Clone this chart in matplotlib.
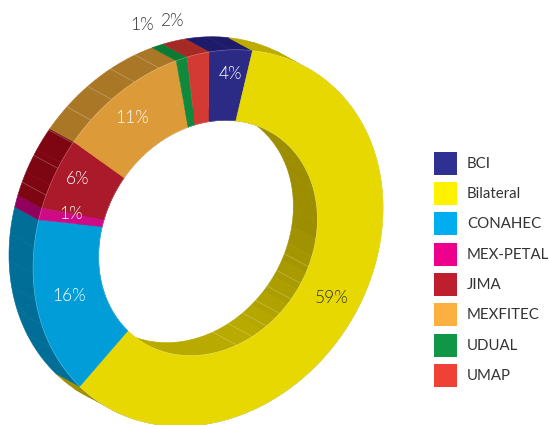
import numpy as np
import matplotlib
matplotlib.use("Agg")
import matplotlib.pyplot as plt
from matplotlib.patches import Polygon, Rectangle
from matplotlib.transforms import Affine2D

categories = ["BCI", "Bilateral", "CONAHEC", "MEX-PETAL", "JIMA", "MEXFITEC", "UDUAL", "UMAP"]
shares = [4, 59, 16, 1, 6, 11, 1, 2]
labels_txt = ["4%", "59%", "16%", "1%", "6%", "11%", "1%", "2%"]
label_x = [230, 332, 69, 71, 78, 132, 142, 172]
label_y = [74, 298, 296, 214, 179, 118, 25, 21]
label_col = ["white", "#333333", "white", "white", "white", "white", "#333333", "#333333"]
face_cols = ["#2b2a85", "#e6d800", "#009dd9", "#cf0a87", "#ab1a2b", "#dd9a38", "#0f8a3c", "#d33a33"]
wall_cols = ["#1e1b6b", "#b5a700", "#006e97", "#92005e", "#7e0612", "#a97726", "#0c7a35", "#a52a26"]
legend_cols = ["#2e3192", "#fff200", "#00aeef", "#ec008c", "#be1e2d", "#fbb040", "#0f9647", "#ef4136"]

plt.rcParams["font.family"] = ["Lato", "DejaVu Sans"]

fig = plt.figure(figsize=(5.49, 4.25), dpi=100)
ax = fig.add_axes([0, 0, 1, 1])

M = Affine2D.from_values(175, -29, 1, -186, 208, 238)
DEPTH = np.array([-24.0, -13.0])
INNER = 0.625
FACET = 360 / 42


def rim(phi_deg, r):
    p = np.radians(phi_deg)
    return M.transform(np.column_stack([r * np.sin(p), r * np.cos(p)]))


def shade(a, b, t):
    ca, cb = np.array(matplotlib.colors.to_rgb(a)), np.array(matplotlib.colors.to_rgb(b))
    return tuple(ca + (cb - ca) * t)


def wall_colour(i, phi, r):
    if categories[i] != "Bilateral":
        return wall_cols[i]
    if r == 1:
        return "#bcab00" if phi < 120 else "#9f9000"
    return shade("#9c8e00", "#b9aa00", np.clip((phi - 95) / 60, 0, 1))


edges = np.concatenate([[0], np.cumsum(shares)]) * 3.6

# walls
for i in range(len(shares)):
    a0, a1 = edges[i], edges[i + 1]
    n = max(2, int(np.ceil((a1 - a0) / FACET)) + 1)
    steps = np.linspace(a0, a1, n)
    for s0, s1 in zip(steps[:-1], steps[1:]):
        arc = np.linspace(s0, s1, 12)
        mid = (s0 + s1) / 2
        for r in (1, INNER):
            pts = rim(arc, r)
            poly = np.vstack([pts, pts[::-1] + DEPTH])
            col = wall_colour(i, mid, r)
            ax.add_patch(Polygon(poly, closed=True, fc=col, ec=col, lw=0.4, zorder=2))

# faint facet lines on the visible walls
for phi in np.arange(292, 345, FACET):
    p = rim(np.array([phi]), 1)[0]
    ax.plot([p[0], p[0] + DEPTH[0]], [p[1], p[1] + DEPTH[1]], color="white", alpha=0.3, lw=0.5, zorder=3)
for phi in np.arange(113, 170, FACET):
    p = rim(np.array([phi]), INNER)[0]
    ax.plot([p[0], p[0] + DEPTH[0]], [p[1], p[1] + DEPTH[1]], color="white", alpha=0.3, lw=0.5, zorder=3)

# top face
wedges, _ = ax.pie(shares, startangle=90, counterclock=False, radius=1,
                   colors=face_cols, wedgeprops=dict(width=1 - INNER, linewidth=0.3))
for w, col in zip(wedges, face_cols):
    w.set_edgecolor(col)
    w.set_transform(M + ax.transData)
    w.set_zorder(4)

# thin light rim between face and wall
ang = np.linspace(0, 360, 400)
for r in (1, INNER):
    q = rim(ang, r)
    ax.plot(q[:, 0], q[:, 1], color="white", alpha=0.25, lw=0.5, zorder=5)

for t, x, y, c in zip(labels_txt, label_x, label_y, label_col):
    ax.text(x, y, t, color=c, fontsize=12.5, fontweight=300, ha="center", va="center", zorder=6)

# legend
box_y = [152, 182, 212, 243, 273, 303, 334, 364]
for name, col, y in zip(categories, legend_cols, box_y):
    ax.add_patch(Rectangle((434, y), 23, 23, fc=col, ec="none", zorder=6))
    ax.text(467, y + 12, name, color="#333333", fontsize=10.8, ha="left", va="center", zorder=6)

ax.set_aspect("auto")
ax.set_xlim(0, 549)
ax.set_ylim(425, 0)
ax.axis("off")
fig.savefig("out.png", dpi=100)
